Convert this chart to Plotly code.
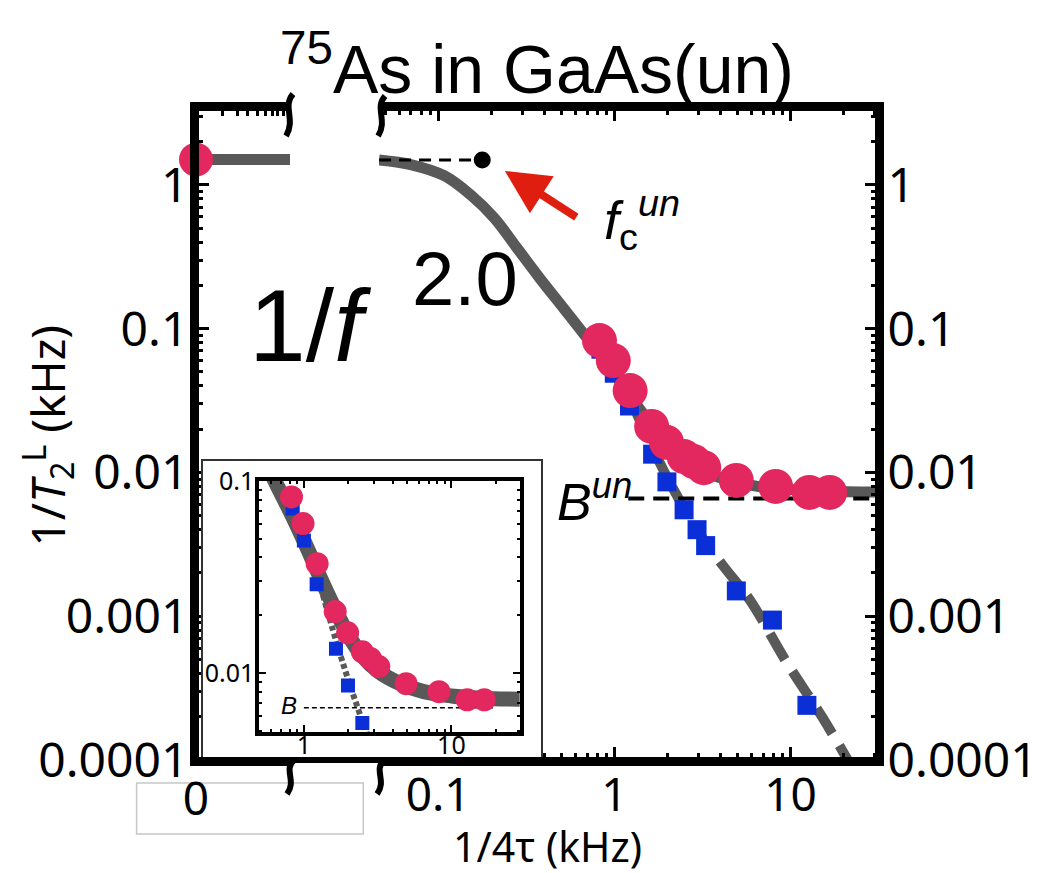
import plotly.graph_objects as go

# ---------------- data ----------------
# main data: 1/T2L (kHz) vs 1/4tau (kHz)
pink_x = [0.824, 0.987, 1.23, 1.63, 1.98, 2.49, 2.83, 3.22, 4.93, 8.24, 12.8, 16.7]
pink_y = [0.0826, 0.060, 0.0371, 0.0209, 0.0162, 0.0129, 0.0119, 0.0108, 0.0088, 0.0080, 0.00726, 0.00726]
pink_zero_x = [0]
pink_zero_y = [1.5]

blue_x = [0.84, 1.0, 1.22, 1.65, 1.99, 2.49, 2.95, 3.30, 4.93, 7.9, 12.4]
blue_y = [0.072, 0.049, 0.029, 0.0134, 0.0086, 0.0055, 0.0040, 0.0031, 0.0015, 0.00094, 0.00024]

# fitted curve (solid)
fit_x = [0.0462, 0.0707, 0.109, 0.153, 0.208, 0.280, 0.376, 0.512, 0.662, 0.85, 1.05,
         1.3, 1.65, 2.0, 2.5, 3.2, 4.5, 6.5, 10, 16, 32]
fit_y = [1.49, 1.38, 1.155, 0.852, 0.590, 0.365, 0.226, 0.140, 0.094, 0.064, 0.045,
         0.031, 0.021, 0.0158, 0.0122, 0.0102, 0.0088, 0.0080, 0.0076, 0.0074, 0.0073]
fit_zero_x = [0, 1]
fit_zero_y = [1.5, 1.5]

# background-free curve (dashed)
dash_x = [1.3, 1.65, 2.0, 2.5, 3.22, 4.2, 5.9, 9.4, 15.1, 22]
dash_y = [0.028, 0.0148, 0.0092, 0.0056, 0.0034, 0.0022, 0.00129, 0.00049, 0.0002, 0.000092]

fc_x = 0.178
fc_y = 1.49
fc_line_x = [0.0462, 0.178]
bun = 0.0066
bun_x = [1.2, 32]
inset_b_x = [1.0, 20]

y_tick_vals = [1e-4, 1e-3, 1e-2, 1e-1, 1]
y_tick_text = ["0.0001", "0.001", "0.01", "0.1", "1"]
x_tick_vals = [0.1, 1, 10]
x_tick_text = ["0.1", "1", "10"]
inset_x_ticks = [1, 10]
inset_x_text = ["1", "10"]
inset_y_ticks = [0.01, 0.1]
inset_y_text = ["0.01", "0.1"]

# ---------------- geometry ----------------
W, H = 1042, 873
L, R, T, B = 188, 877, 100, 752


def px(x):
    return (x - L) / (R - L)


def py(y):
    return (B - y) / (B - T)


PINK = "#E2285E"
BLUE = "#0A2FD6"
GRAY = "#595959"
TICKFONT = dict(family="Noto Sans", size=48, color="black")
XTICKFONT = dict(family="Noto Sans", size=46, color="black")

minor_y = [k * 10 ** e for e in range(-4, 1) for k in range(2, 10) if k * 10 ** e < 3.4]
minor_x = [k * 10 ** e for e in range(-2, 2) for k in range(2, 10) if 0.046 < k * 10 ** e < 31]
minor_y_in = [k * 10 ** e for e in (-3, -2) for k in range(2, 10) if 0.0049 < k * 10 ** e < 0.1]
minor_x_in = [k * 10 ** e for e in (-1, 0, 1) for k in range(2, 10) if 0.5 < k * 10 ** e < 29]

fig = go.Figure()

# ----- "0" segment -----
fig.add_trace(go.Scatter(x=fit_zero_x, y=fit_zero_y, mode="lines", xaxis="x", yaxis="y",
                         line=dict(color=GRAY, width=11), hoverinfo="skip"))
fig.add_trace(go.Scatter(x=pink_zero_x, y=pink_zero_y, mode="markers", xaxis="x", yaxis="y",
                         marker=dict(color=PINK, size=34), cliponaxis=False))

# ----- main log part -----
fig.add_trace(go.Scatter(x=fit_x, y=fit_y, mode="lines", xaxis="x2", yaxis="y",
                         line=dict(color=GRAY, width=11, shape="spline"), hoverinfo="skip"))
fig.add_trace(go.Scatter(x=dash_x, y=dash_y, mode="lines", xaxis="x2", yaxis="y",
                         line=dict(color=GRAY, width=10, dash="30px,14px", shape="spline"),
                         hoverinfo="skip"))
fig.add_trace(go.Scatter(x=fc_line_x, y=[fc_y, fc_y], mode="lines", xaxis="x2", yaxis="y",
                         line=dict(color="black", width=3, dash="12px,8px")))
fig.add_trace(go.Scatter(x=[fc_x], y=[fc_y], mode="markers", xaxis="x2", yaxis="y",
                         marker=dict(color="black", size=17)))
fig.add_trace(go.Scatter(x=bun_x, y=[bun, bun], mode="lines", xaxis="x2", yaxis="y",
                         line=dict(color="black", width=4, dash="16px,9px")))
fig.add_trace(go.Scatter(x=blue_x, y=blue_y, mode="markers", xaxis="x2", yaxis="y",
                         marker=dict(color=BLUE, size=19, symbol="square")))
fig.add_trace(go.Scatter(x=pink_x, y=pink_y, mode="markers", xaxis="x2", yaxis="y",
                         marker=dict(color=PINK, size=35)))
# right axis carrier
fig.add_trace(go.Scatter(x=[1], y=[1], mode="markers", xaxis="x2", yaxis="y2",
                         marker=dict(opacity=0), hoverinfo="skip"))

# ----- inset cover box -----
fig.add_trace(go.Scatter(x=[0.5], y=[0.5], mode="markers", xaxis="x3", yaxis="y3",
                         marker=dict(opacity=0), hoverinfo="skip"))

# ----- inset -----
fig.add_trace(go.Scatter(x=fit_x, y=fit_y, mode="lines", xaxis="x4", yaxis="y4",
                         line=dict(color=GRAY, width=15, shape="spline"), hoverinfo="skip"))
fig.add_trace(go.Scatter(x=dash_x, y=dash_y, mode="lines", xaxis="x4", yaxis="y4",
                         line=dict(color=GRAY, width=6, dash="5px,3px", shape="spline"),
                         hoverinfo="skip"))
fig.add_trace(go.Scatter(x=inset_b_x, y=[bun, bun], mode="lines", xaxis="x4", yaxis="y4",
                         line=dict(color="black", width=1.5, dash="5px,3px")))
fig.add_trace(go.Scatter(x=blue_x, y=blue_y, mode="markers", xaxis="x4", yaxis="y4",
                         marker=dict(color=BLUE, size=14, symbol="square")))
fig.add_trace(go.Scatter(x=pink_x, y=pink_y, mode="markers", xaxis="x4", yaxis="y4",
                         marker=dict(color=PINK, size=23)))

common = dict(showgrid=False, zeroline=False, color="black", linecolor="black")

fig.update_layout(
    width=W, height=H, autosize=False, showlegend=False,
    paper_bgcolor="white", plot_bgcolor="white",
    margin=dict(l=L, r=W - R, t=T, b=H - B, pad=0),
    xaxis=dict(domain=[0, px(283)], range=[0, 1], anchor="y",
               tickvals=[0], ticktext=["0"], ticks="", tickfont=XTICKFONT,
               ticklabelstandoff=-6, showline=True, linewidth=6, mirror="ticks",
               minor=dict(tickvals=[0.28, 0.44, 0.55, 0.65, 0.74, 0.81, 0.87, 0.93],
                          ticks="inside", ticklen=8, tickwidth=3, tickcolor="black"),
               **common),
    xaxis2=dict(domain=[px(373), 1], type="log", range=[-1.335, 1.497], anchor="y",
                tickvals=x_tick_vals, ticktext=x_tick_text, ticks="inside", ticklen=13,
                tickwidth=3, tickfont=XTICKFONT, ticklabelstandoff=-10,
                showline=True, linewidth=6, mirror="ticks",
                minor=dict(tickvals=minor_x, ticks="inside", ticklen=7, tickwidth=3,
                           tickcolor="black"),
                **common),
    yaxis=dict(domain=[0, 1], type="log", range=[-4, 0.535], anchor="x", side="left",
               tickvals=y_tick_vals, ticktext=y_tick_text, ticks="inside", ticklen=13,
               tickwidth=3, tickfont=TICKFONT, ticklabelstandoff=-8,
               showline=True, linewidth=6,
               minor=dict(tickvals=minor_y, ticks="inside", ticklen=7, tickwidth=3,
                          tickcolor="black"),
               **common),
    yaxis2=dict(overlaying="y", type="log", range=[-4, 0.535], anchor="x2", side="right",
                tickvals=y_tick_vals, ticktext=y_tick_text, ticks="inside", ticklen=13,
                tickwidth=3, tickfont=TICKFONT, ticklabelstandoff=-6,
                showline=True, linewidth=6,
                minor=dict(tickvals=minor_y, ticks="inside", ticklen=7, tickwidth=3,
                           tickcolor="black"),
                **common),
    xaxis3=dict(domain=[px(195), px(537)], range=[0, 1], anchor="y3", showline=True,
                linewidth=2, linecolor="#333333", mirror=True, ticks="",
                showticklabels=False, showgrid=False, zeroline=False),
    yaxis3=dict(domain=[py(752), py(453)], range=[0, 1], anchor="x3", showline=True,
                linewidth=2, linecolor="#333333", mirror=True, ticks="",
                showticklabels=False, showgrid=False, zeroline=False),
    xaxis4=dict(domain=[px(252), px(515)], type="log", range=[-0.302, 1.463], anchor="y4",
                tickvals=inset_x_ticks, ticktext=inset_x_text, ticks="inside", ticklen=7,
                tickwidth=2, tickfont=dict(family="Noto Sans", size=25, color="black"),
                ticklabelstandoff=-12, showline=True, linewidth=4, mirror="allticks",
                minor=dict(tickvals=minor_x_in, ticks="inside", ticklen=3, tickwidth=2,
                           tickcolor="black"),
                **common),
    yaxis4=dict(domain=[py(724), py(473)], type="log", range=[-2.307, -1], anchor="x4",
                tickvals=inset_y_ticks, ticktext=inset_y_text, ticks="inside", ticklen=7,
                tickwidth=2, tickfont=dict(family="Noto Sans", size=25, color="black"),
                ticklabelstandoff=-4, showline=True, linewidth=4, mirror="allticks",
                minor=dict(tickvals=minor_y_in, ticks="inside", ticklen=3, tickwidth=2,
                           tickcolor="black"),
                **common),
)

# ----- frame and break marks -----
shapes = []


def seg(x0, y0, x1, y1, w=6):
    shapes.append(dict(type="line", xref="paper", yref="paper", x0=px(x0), y0=py(y0),
                       x1=px(x1), y1=py(y1), line=dict(color="black", width=w),
                       layer="above"))


seg(L, T - 3, L, B + 3)
seg(R, T - 3, R, B + 3)
seg(L, B, R, B)
seg(L, T, 282, T)
seg(374, T, R, T)


def squiggle(x, y0, y1):
    h = y1 - y0
    pts = [(x + 4, y0), (x - 7, y0 + 0.3 * h), (x + 7, y0 + 0.6 * h), (x - 3, y1)]
    p = "M {:.5f},{:.5f} C {:.5f},{:.5f} {:.5f},{:.5f} {:.5f},{:.5f}".format(
        px(pts[0][0]), py(pts[0][1]), px(pts[1][0]), py(pts[1][1]),
        px(pts[2][0]), py(pts[2][1]), px(pts[3][0]), py(pts[3][1]))
    shapes.append(dict(type="path", xref="paper", yref="paper", path=p,
                       line=dict(color="black", width=6), layer="above"))


squiggle(282, 86, 128)
squiggle(375, 88, 128)
squiggle(283, 752, 786)
squiggle(374, 752, 786)

# box around the "0" tick label
shapes.append(dict(type="rect", xref="paper", yref="paper", x0=px(128), y0=py(826),
                   x1=px(357), y1=py(775), line=dict(color="#c8c8c8", width=1.5),
                   layer="below"))
fig.update_layout(shapes=shapes)

# ----- annotations -----
ann = []


def text(x, y, t, size, family="Liberation Sans", xanchor="center", angle=0,
         yanchor="middle"):
    ann.append(dict(xref="paper", yref="paper", x=px(x), y=py(y), text=t,
                    showarrow=False, xanchor=xanchor, yanchor=yanchor, textangle=angle,
                    font=dict(family=family, size=size, color="black")))


text(532, 56, "<sup>75</sup>As in GaAs(un)", 68)
text(240, 318, "1/<i>f</i>", 102, xanchor="left")
text(404, 270, "2.0", 76, xanchor="left")
text(598, 212, "<i>f</i><sub>c</sub><sup><i>un</i></sup>", 54, xanchor="left")
text(630, 490, "<i>B</i><sup><i>un</i></sup>", 52, xanchor="right")
text(292, 697, "<i>B</i>", 24, xanchor="right")
text(543, 868, "1/4\u03c4 (kHz)", 41, family="Noto Sans", yanchor="bottom")
text(38, 428, "1/<i>T</i><sub>2</sub><sup>L</sup> (kHz)", 46, family="Noto Sans", angle=-90)

# red arrow pointing at f_c
ann.append(dict(xref="paper", yref="paper", x=px(500), y=py(163), ax=73, ay=47,
                axref="pixel", ayref="pixel", text="", showarrow=True, arrowhead=2,
                arrowsize=1.1, arrowwidth=8, arrowcolor="#E01E10"))

fig.update_layout(annotations=ann)

fig.write_html("out.html")
